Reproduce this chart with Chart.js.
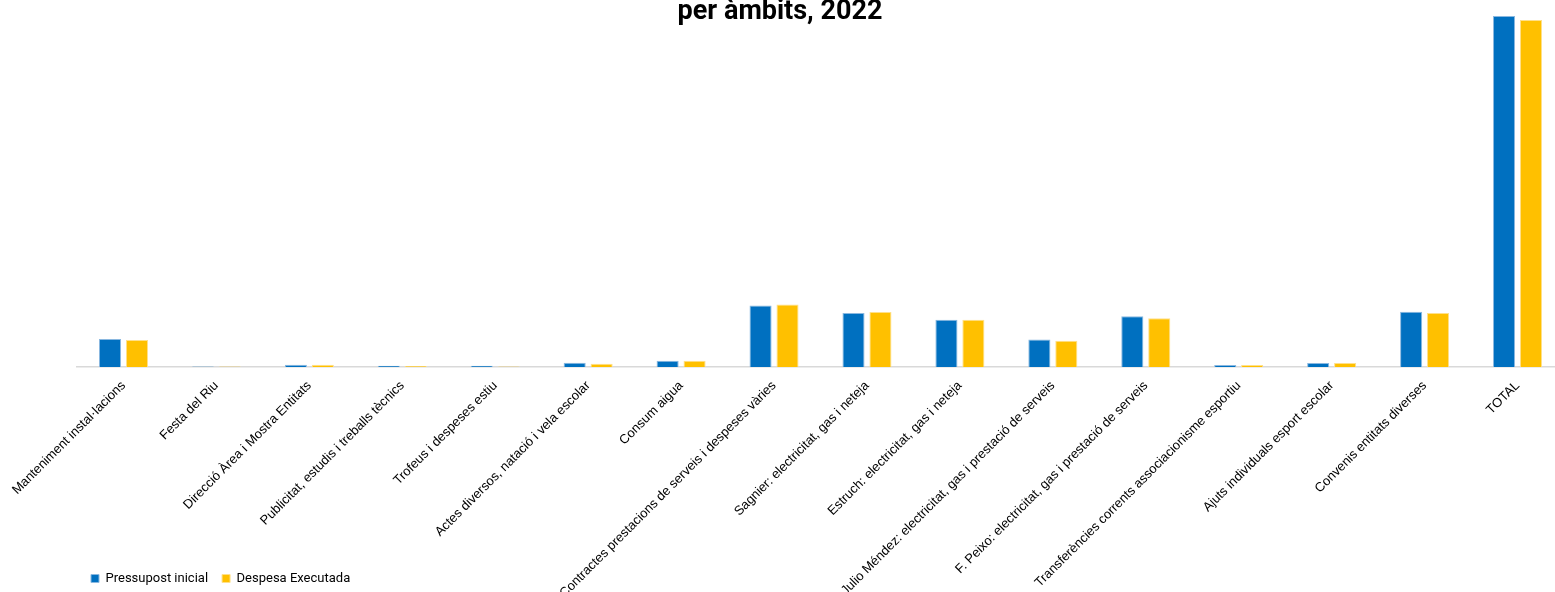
<!DOCTYPE html>
<html>
<head>
<meta charset="utf-8">
<script src="https://cdn.jsdelivr.net/npm/chart.js@4/dist/chart.umd.min.js"></script>
<style>
  html, body { margin: 0; padding: 0; background: #fff; }
  #wrap { width: 1555px; height: 592px; overflow: hidden; }
</style>
</head>
<body>
<div id="wrap"><canvas id="chart" width="1564" height="592"></canvas></div>
<script>
// categories and series (euros)
const categories = [
  "Manteniment instal·lacions",
  "Festa del Riu",
  "Direcció Àrea i Mostra Entitats",
  "Publicitat, estudis i treballs tècnics",
  "Trofeus i despeses estiu",
  "Actes diversos, natació i vela escolar",
  "Consum aigua",
  "Contractes prestacions de serveis i despeses vàries",
  "Sagnier: electricitat, gas i neteja",
  "Estruch: electricitat, gas i neteja",
  "Julio Méndez: electricitat, gas i prestació de serveis",
  "F. Peixo: electricitat, gas i prestació de serveis",
  "Transferències corrents associacionisme esportiu",
  "Ajuts individuals esport escolar",
  "Convenis entitats diverses",
  "TOTAL"
]
const pressupostInicial = [280000, 5000, 23000, 13000, 13000, 43000, 63000, 616000, 540000, 473000, 276000, 508000, 20000, 40000, 553000, 3510000]
const despesaExecutada = [270000, 5000, 23000, 10000, 5000, 33000, 63000, 626000, 550000, 473000, 263000, 488000, 20000, 40000, 540000, 3470000]

const titleText = "per àmbits, 2022"

// title sits over the plot, partly cut at the top
const titlePlugin = {
  id: "cutTitle",
  afterDraw(chart) {
    const ctx = chart.ctx
    ctx.save()
    ctx.font = "bold 27px Roboto"
    ctx.fillStyle = "#000"
    ctx.textAlign = "center"
    ctx.textBaseline = "alphabetic"
    ctx.fillText(titleText, 780, 19)
    ctx.restore()
  }
}

// legend takes no room in the layout, it sits over the tick label area
const legendOverlay = {
  id: "legendOverlay",
  beforeLayout(chart) {
    const lg = chart.legend
    if (lg && !lg._wrapped) {
      const fit = lg.fit.bind(lg)
      lg.fit = function () {
        fit()
        this._realHeight = this.height
        this.height = 0
      }
      lg._wrapped = true
    }
  },
  afterLayout(chart) {
    const lg = chart.legend
    if (!lg) return
    lg.top = 558
    lg.height = lg._realHeight
    lg.bottom = lg.top + lg.height
  }
}

new Chart(document.getElementById("chart"), {
  type: "bar",
  data: {
    labels: categories,
    datasets: [
      {
        label: "Pressupost inicial",
        data: pressupostInicial,
        backgroundColor: "#0070c0",
        borderColor: "#8ab8e0",
        borderWidth: 1,
        categoryPercentage: 0.58,
        barPercentage: 0.82
      },
      {
        label: "Despesa Executada",
        data: despesaExecutada,
        backgroundColor: "#ffc000",
        borderColor: "#ffe08a",
        borderWidth: 1,
        categoryPercentage: 0.58,
        barPercentage: 0.82
      }
    ]
  },
  options: {
    responsive: false,
    animation: false,
    layout: { padding: { left: 77, right: 0, top: 10, bottom: 0 } },
    plugins: {
      title: { display: false },
      tooltip: { enabled: false },
      legend: {
        position: "bottom",
        align: "start",
        labels: {
          boxWidth: 8,
          boxHeight: 8,
          padding: 14,
          color: "#000",
          font: { family: "Roboto", size: 13 }
        }
      }
    },
    scales: {
      x: {
        grid: { display: false },
        border: { color: "#d9d9d9", width: 1.5 },
        ticks: {
          autoSkip: false,
          minRotation: 45,
          maxRotation: 45,
          color: "#000",
          font: { family: "Liberation Sans", size: 13 }
        },
        afterFit(scale) { scale.height = 225 }
      },
      y: {
        display: false,
        min: 0,
        max: 3570000
      }
    }
  },
  plugins: [titlePlugin, legendOverlay]
})
</script>
</body>
</html>
